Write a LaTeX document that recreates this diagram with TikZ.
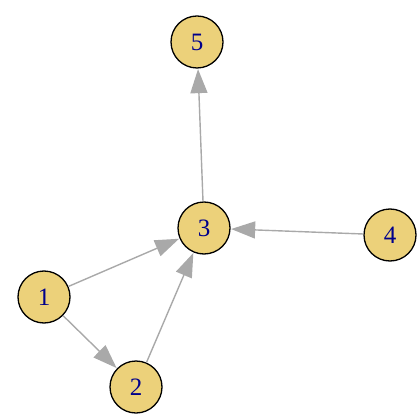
\documentclass[tikz,border=0pt]{standalone}
\usepackage{fontspec}
\setmainfont{Liberation Serif}
\usetikzlibrary{arrows.meta}
\definecolor{vfill}{RGB}{236,209,122}
\definecolor{vlabel}{RGB}{0,0,139}
\definecolor{egray}{RGB}{169,169,169}

\begin{document}
\begin{tikzpicture}[
  x=1pt, y=-1pt,
  vertex/.style={draw=black, circle, line width=1.3pt, fill=vfill, minimum size=52pt,
                 inner sep=0pt, text=vlabel, font=\fontsize{25}{25}\selectfont},
  arr/.style={-{Triangle[length=24pt,width=17pt]}, draw=egray, line width=1.4pt, shorten >=0.5pt}
]
\useasboundingbox (0,0) rectangle (419,419);
\node[vertex] (v5) at (197,42) {5};
\node[vertex] (v3) at (204,228) {3};
\node[vertex] (v4) at (390,235) {4};
\node[vertex] (v1) at (44,297) {1};
\node[vertex] (v2) at (136,387) {2};

\draw[arr] (v3) -- (v5);
\draw[arr] (v4) -- (v3);
\draw[arr] (v1) -- (v3);
\draw[arr] (v1) -- (v2);
\draw[arr] (v2) -- (v3);
\end{tikzpicture}
\end{document}
